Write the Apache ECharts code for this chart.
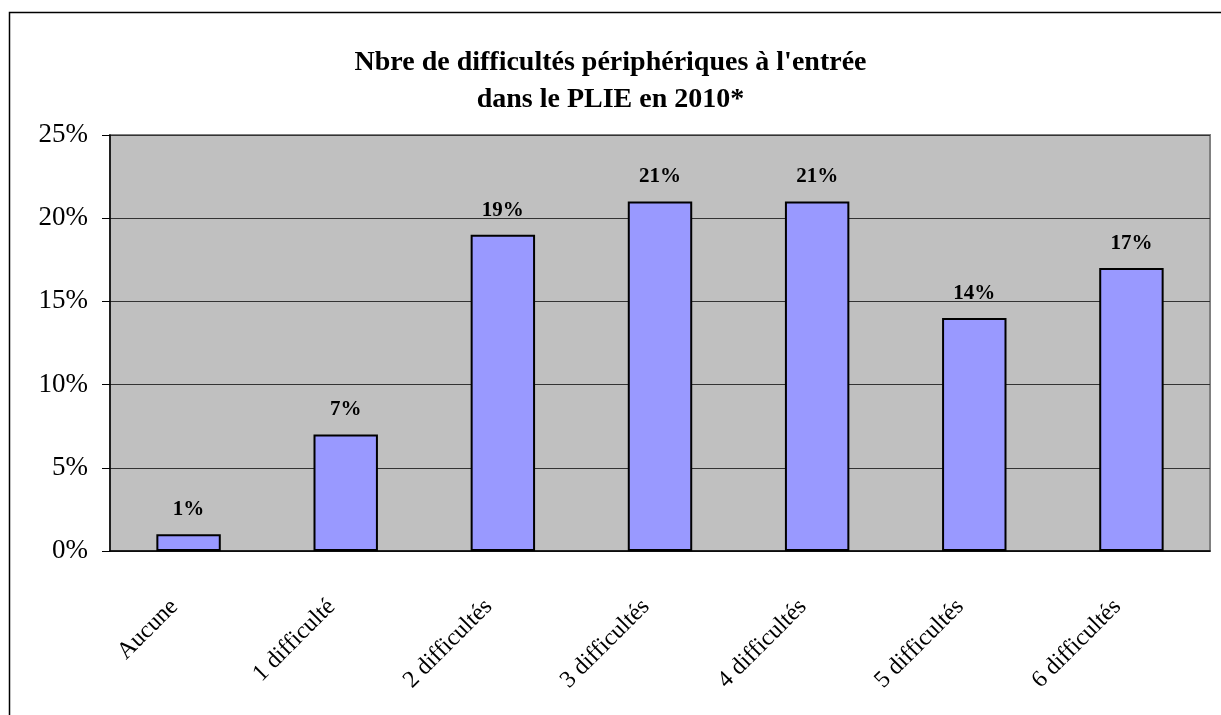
<!DOCTYPE html>
<html>
<head>
<meta charset="utf-8">
<script src="https://cdn.jsdelivr.net/npm/echarts@6/dist/echarts.min.js"></script>
<style>
  html, body { margin: 0; padding: 0; background: #fff; }
  #chart { width: 1221px; height: 715px; }
</style>
</head>
<body>
<div id="chart"></div>
<script>
// catégories et valeurs (%)
const categories = ['Aucune', '1 difficulté', '2 difficultés', '3 difficultés', '4 difficultés', '5 difficultés', '6 difficultés'];
const values = [1, 7, 19, 21, 21, 14, 17];
const yTicks = [0, 5, 10, 15, 20, 25];

const serif = '"Liberation Serif", "DejaVu Serif", serif';

const myChart = echarts.init(document.getElementById('chart'));

const option = {
    backgroundColor: '#fff',
    animation: false,
    title: {
        text: "Nbre de difficultés périphériques à l'entrée\ndans le PLIE en 2010*",
        left: 'center',
        top: 39,
        textStyle: {
            fontFamily: serif,
            fontWeight: 'bold',
            fontSize: 28,
            lineHeight: 37,
            color: '#000'
        }
    },
    graphic: [{
        type: 'rect',
        shape: { x: 9.5, y: 12.5, width: 1400, height: 900 },
        style: { fill: 'none', stroke: '#000', lineWidth: 1.5 },
        silent: true
    }],
    grid: {
        left: 110,
        right: 11,
        top: 135,
        bottom: 164,
        show: true,
        backgroundColor: '#c0c0c0',
        borderColor: '#808080',
        borderWidth: 2
    },
    xAxis: {
        type: 'category',
        data: categories,
        axisLine: { lineStyle: { color: '#000', width: 1.5 } },
        axisTick: { alignWithLabel: false, length: 8, lineStyle: { color: '#000' } },
        axisLabel: {
            rotate: 45,
            margin: 38,
            padding: [0, 20, 0, 0],
            fontFamily: serif,
            fontSize: 24,
            color: '#000',
            interval: 0
        }
    },
    yAxis: {
        type: 'value',
        min: yTicks[0],
        max: yTicks[yTicks.length - 1],
        interval: 5,
        axisLine: { show: true, lineStyle: { color: '#000', width: 1.5 } },
        axisTick: { show: true, length: 8, lineStyle: { color: '#000' } },
        axisLabel: {
            formatter: '{value}%',
            margin: 22,
            fontFamily: serif,
            fontSize: 27,
            color: '#000'
        },
        splitLine: { lineStyle: { color: '#333', width: 1 } }
    },
    series: [{
        type: 'bar',
        data: values,
        barWidth: '41%',
        itemStyle: {
            color: '#9999ff',
            borderColor: '#000',
            borderWidth: 2
        },
        label: {
            show: true,
            position: 'top',
            distance: 14,
            formatter: '{c}%',
            fontFamily: serif,
            fontWeight: 'bold',
            fontSize: 21,
            color: '#000'
        }
    }]
};

myChart.setOption(option);
</script>
</body>
</html>
